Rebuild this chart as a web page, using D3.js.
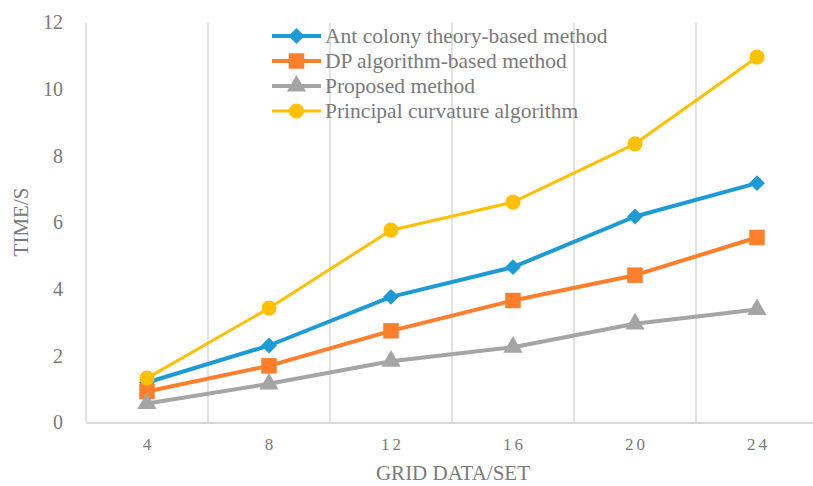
<!DOCTYPE html>
<html><head><meta charset="utf-8">
<script src="https://cdn.jsdelivr.net/npm/d3@7"></script>
<style>
html,body{margin:0;padding:0;background:#fff;}
svg{display:block;}
text{font-family:"Liberation Serif","Times New Roman",serif;}
</style>
</head><body>
<svg id="chart" width="813" height="486"></svg>
<script>
const categories = ["4","8","12","16","20","24"];
const antColony = [1.2, 2.31, 3.77, 4.66, 6.18, 7.18];
const dpAlgorithm = [0.93, 1.70, 2.75, 3.66, 4.42, 5.55];
const proposed = [0.57, 1.16, 1.84, 2.26, 2.96, 3.39];
const principal = [1.33, 3.43, 5.77, 6.61, 8.36, 10.96];
const seriesNames = ["Ant colony theory-based method","DP algorithm-based method","Proposed method","Principal curvature algorithm"];
const yTicks = [0,2,4,6,8,10,12];
const xTitle = "GRID DATA/SET";
const yTitle = "TIME/S";

const seriesStyles = [
  {color:"#1D9BD6", marker:"diamond", width:4},
  {color:"#FD7E2B", marker:"square", width:4},
  {color:"#A5A5A5", marker:"triangle", width:4},
  {color:"#FFC000", marker:"circle", width:3}
];
const seriesData = [antColony, dpAlgorithm, proposed, principal];

const svg = d3.select("#chart");
const x = d3.scaleBand().domain(categories).range([86, 818]).padding(0);
const y = d3.scaleLinear().domain([0,12]).range([422.5, 22.5]);

// vertical gridlines at band boundaries
const bounds = categories.map(c => x(c)).slice(1);
svg.append("g").selectAll("line").data(bounds).join("line")
  .attr("x1", d=>d).attr("x2", d=>d)
  .attr("y1", y(12)).attr("y2", y(0))
  .attr("stroke","#d9d9d9").attr("stroke-width",1.5);
svg.append("line").attr("x1",86).attr("x2",86).attr("y1",y(12)).attr("y2",y(0))
  .attr("stroke","#d9d9d9").attr("stroke-width",1.5);

// x axis
const xAxis = d3.axisBottom(x).tickSize(0).tickPadding(15);
const gx = svg.append("g").attr("transform",`translate(0,${y(0)})`).call(xAxis);
gx.select(".domain").attr("stroke","#d9d9d9").attr("stroke-width",2);
gx.selectAll("text").attr("fill","#7a7a7a").style("font-size","17px").style("letter-spacing","3px")
  .attr("dx","1.5px");

// y axis
const yAxis = d3.axisLeft(y).tickValues(yTicks).tickSize(0).tickPadding(0);
const gy = svg.append("g").attr("transform","translate(63,0)").call(yAxis);
gy.select(".domain").remove();
gy.selectAll("text").attr("fill","#7a7a7a").style("font-size","20px");

// titles
svg.append("text").attr("x",453).attr("y",480).attr("text-anchor","middle")
  .attr("fill","#7a7a7a").style("font-size","21px").text(xTitle);
svg.append("text").attr("transform","translate(28,222) rotate(-90)").attr("text-anchor","middle")
  .attr("fill","#7a7a7a").style("font-size","21px").text(yTitle);

function markerPath(type){
  if(type==="diamond") return d3.symbol(d3.symbolDiamond2 || d3.symbolDiamond, 160)();
  if(type==="square") return d3.symbol(d3.symbolSquare, 240)();
  if(type==="triangle") return d3.symbol(d3.symbolTriangle, 160)();
  return d3.symbol(d3.symbolCircle, 180)();
}

const line = d3.line().x((d,i)=>x(categories[i])+x.bandwidth()/2).y(d=>y(d));
seriesData.forEach((vals, si)=>{
  const st = seriesStyles[si];
  const g = svg.append("g");
  g.append("path").datum(vals).attr("d",line).attr("fill","none")
    .attr("stroke",st.color).attr("stroke-width",st.width).attr("stroke-linejoin","round");
  g.selectAll("path.m").data(vals).join("path").attr("class","m")
    .attr("d", markerPath(st.marker))
    .attr("transform",(d,i)=>`translate(${x(categories[i])+x.bandwidth()/2},${y(d)})`)
    .attr("fill",st.color);
});

// legend
const lg = svg.append("g");
seriesNames.forEach((name, i)=>{
  const st = seriesStyles[i];
  const yy = 36 + i*25;
  lg.append("line").attr("x1",272).attr("x2",321).attr("y1",yy).attr("y2",yy)
    .attr("stroke",st.color).attr("stroke-width",st.width);
  lg.append("path").attr("d",markerPath(st.marker)).attr("transform",`translate(296.5,${yy})`).attr("fill",st.color);
  lg.append("text").attr("x",325).attr("y",yy+7).attr("fill","#7a7a7a").style("font-size","21.5px").text(name);
});
</script>
</body></html>
